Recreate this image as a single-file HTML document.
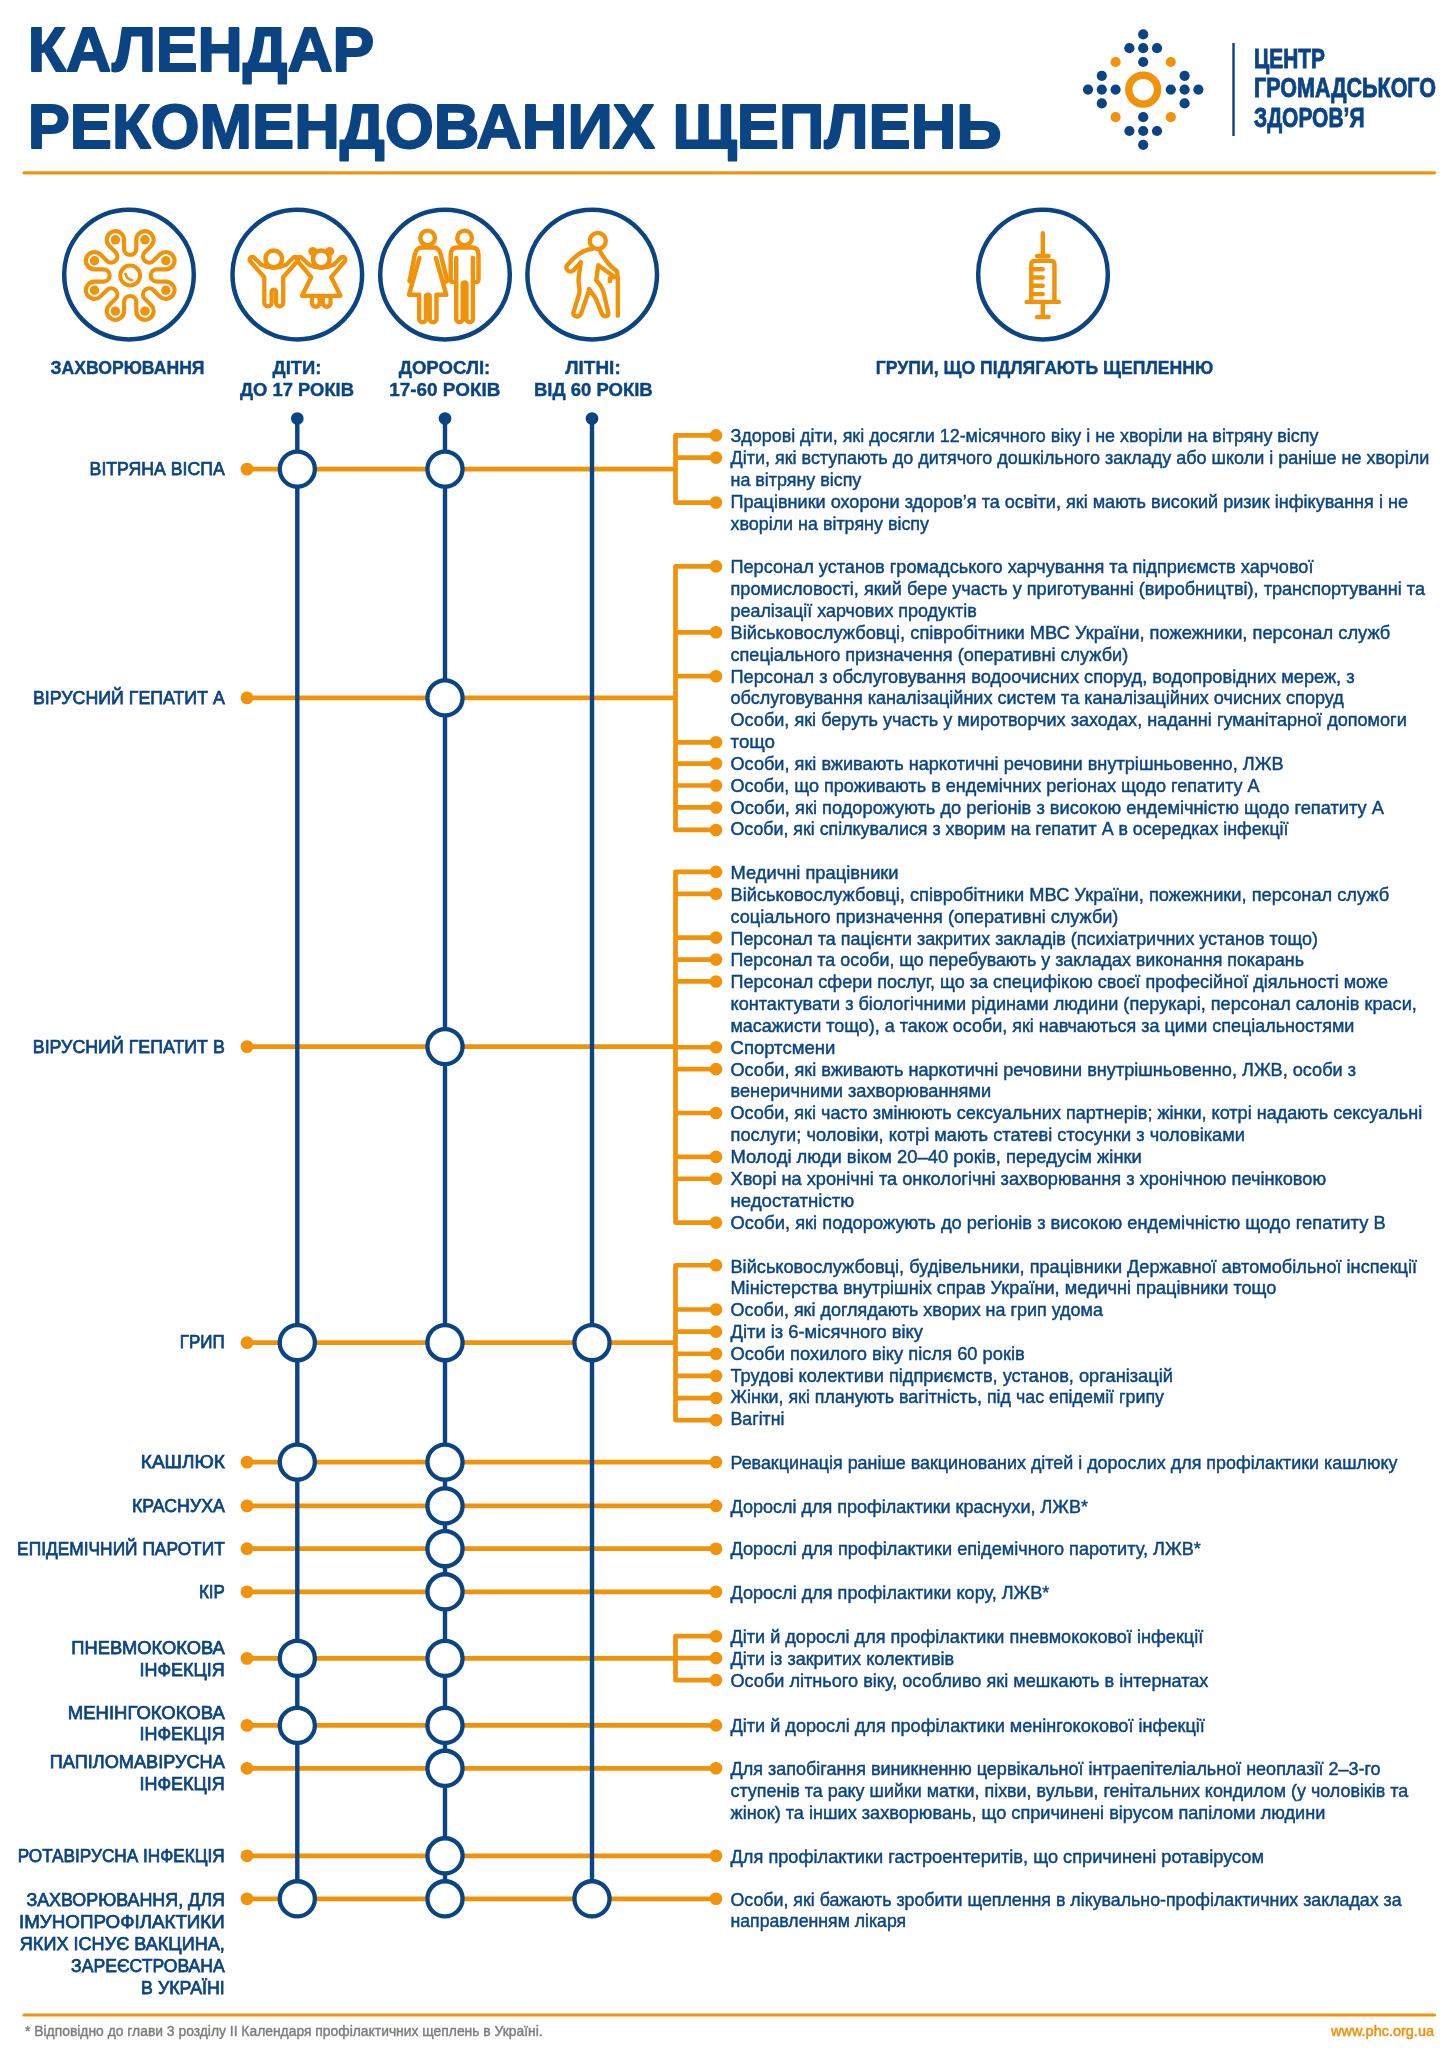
<!DOCTYPE html>
<html lang="uk"><head><meta charset="utf-8"><title>Календар рекомендованих щеплень</title>
<style>
html,body{margin:0;padding:0;background:#fff;}
body{width:1456px;height:2048px;overflow:hidden;position:relative;font-family:"Liberation Sans", sans-serif;}
svg{position:absolute;left:0;top:0;display:block;will-change:transform;font-family:"Liberation Sans", sans-serif;}
</style></head><body>
<svg width="1456" height="2048" viewBox="0 0 1456 2048">
<text x="27.7" y="71.3" font-size="62.8" font-weight="bold" fill="#0b4483" text-anchor="start" textLength="346.7" lengthAdjust="spacingAndGlyphs" stroke="#0b4483" stroke-width="1.8" stroke-linejoin="round">КАЛЕНДАР</text>
<text x="27.7" y="147.7" font-size="62.8" font-weight="bold" fill="#0b4483" text-anchor="start" textLength="973.9" lengthAdjust="spacingAndGlyphs" stroke="#0b4483" stroke-width="1.8" stroke-linejoin="round">РЕКОМЕНДОВАНИХ ЩЕПЛЕНЬ</text>
<circle cx="1143.2" cy="34.4" r="5.1" fill="#0b4483"/>
<circle cx="1129.4" cy="48.2" r="5.1" fill="#0b4483"/>
<circle cx="1143.2" cy="48.2" r="5.1" fill="#0b4483"/>
<circle cx="1157.0" cy="48.2" r="5.1" fill="#0b4483"/>
<circle cx="1143.2" cy="62.0" r="5.1" fill="#0b4483"/>
<circle cx="1101.8" cy="75.8" r="5.1" fill="#0b4483"/>
<circle cx="1184.6" cy="75.8" r="5.1" fill="#0b4483"/>
<circle cx="1088.0" cy="89.6" r="5.1" fill="#0b4483"/>
<circle cx="1101.8" cy="89.6" r="5.1" fill="#0b4483"/>
<circle cx="1115.6" cy="89.6" r="5.1" fill="#0b4483"/>
<circle cx="1170.8" cy="89.6" r="5.1" fill="#0b4483"/>
<circle cx="1184.6" cy="89.6" r="5.1" fill="#0b4483"/>
<circle cx="1198.4" cy="89.6" r="5.1" fill="#0b4483"/>
<circle cx="1101.8" cy="103.4" r="5.1" fill="#0b4483"/>
<circle cx="1184.6" cy="103.4" r="5.1" fill="#0b4483"/>
<circle cx="1143.2" cy="117.2" r="5.1" fill="#0b4483"/>
<circle cx="1129.4" cy="131.0" r="5.1" fill="#0b4483"/>
<circle cx="1143.2" cy="131.0" r="5.1" fill="#0b4483"/>
<circle cx="1157.0" cy="131.0" r="5.1" fill="#0b4483"/>
<circle cx="1143.2" cy="144.8" r="5.1" fill="#0b4483"/>
<circle cx="1115.6" cy="62.0" r="5.1" fill="#f1920b"/>
<circle cx="1170.8" cy="62.0" r="5.1" fill="#f1920b"/>
<circle cx="1115.6" cy="117.2" r="5.1" fill="#f1920b"/>
<circle cx="1170.8" cy="117.2" r="5.1" fill="#f1920b"/>
<circle cx="1143.2" cy="89.6" r="14.4" fill="none" stroke="#f1920b" stroke-width="7.4"/>
<rect x="1232.3" y="43" width="2.4" height="93" fill="#0b4483"/>
<text x="1254" y="67.8" font-size="27.5" font-weight="bold" fill="#0b4483" text-anchor="start" textLength="71" lengthAdjust="spacingAndGlyphs" stroke="#0b4483" stroke-width="0.9">ЦЕНТР</text>
<text x="1254" y="96.9" font-size="27.5" font-weight="bold" fill="#0b4483" text-anchor="start" textLength="182" lengthAdjust="spacingAndGlyphs" stroke="#0b4483" stroke-width="0.9">ГРОМАДСЬКОГО</text>
<text x="1254" y="126.8" font-size="27.5" font-weight="bold" fill="#0b4483" text-anchor="start" textLength="110.5" lengthAdjust="spacingAndGlyphs" stroke="#0b4483" stroke-width="0.9">ЗДОРОВ’Я</text>
<line x1="24" y1="172.8" x2="1434.5" y2="172.8" stroke="#f1920b" stroke-width="3.2" stroke-linecap="round"/>
<line x1="24" y1="2015" x2="1434.5" y2="2015" stroke="#f1920b" stroke-width="3.2" stroke-linecap="round"/>
<circle cx="129" cy="274.6" r="64.8" fill="none" stroke="#0b4483" stroke-width="4.5"/>
<circle cx="297.3" cy="274.6" r="64.8" fill="none" stroke="#0b4483" stroke-width="4.5"/>
<circle cx="445" cy="274.6" r="64.8" fill="none" stroke="#0b4483" stroke-width="4.5"/>
<circle cx="592.2" cy="274.6" r="64.8" fill="none" stroke="#0b4483" stroke-width="4.5"/>
<circle cx="1043" cy="274.6" r="64.8" fill="none" stroke="#0b4483" stroke-width="4.5"/>
<path d="M124.05 239.82L124.05 248.86A6.12 6.12 0 0 0 136.29 248.86L136.29 239.82A8.65 8.65 0 1 1 151.06 245.93L144.67 252.33A6.12 6.12 0 0 0 153.32 260.98L159.72 254.59A8.65 8.65 0 1 1 165.83 269.36L156.79 269.36A6.12 6.12 0 0 0 156.79 281.60L165.83 281.60A8.65 8.65 0 1 1 159.72 296.37L153.32 289.98A6.12 6.12 0 0 0 144.67 298.63L151.06 305.03A8.65 8.65 0 1 1 136.29 311.14L136.29 302.10A6.12 6.12 0 0 0 124.05 302.10L124.05 311.14A8.65 8.65 0 1 1 109.28 305.03L115.67 298.63A6.12 6.12 0 0 0 107.02 289.98L100.62 296.37A8.65 8.65 0 1 1 94.51 281.60L103.55 281.60A6.12 6.12 0 0 0 103.55 269.36L94.51 269.36A8.65 8.65 0 1 1 100.62 254.59L107.02 260.98A6.12 6.12 0 0 0 115.67 252.33L109.28 245.93A8.65 8.65 0 1 1 124.05 239.82Z" fill="none" stroke="#f1920b" stroke-width="4.2" stroke-linejoin="round"/>
<circle cx="144.94" cy="239.82" r="4.7" fill="#f1920b"/>
<circle cx="165.83" cy="260.71" r="4.7" fill="#f1920b"/>
<circle cx="165.83" cy="290.25" r="4.7" fill="#f1920b"/>
<circle cx="144.94" cy="311.14" r="4.7" fill="#f1920b"/>
<circle cx="115.40" cy="311.14" r="4.7" fill="#f1920b"/>
<circle cx="94.51" cy="290.25" r="4.7" fill="#f1920b"/>
<circle cx="94.51" cy="260.71" r="4.7" fill="#f1920b"/>
<circle cx="115.40" cy="239.82" r="4.7" fill="#f1920b"/>
<circle cx="130.17" cy="275.48" r="9.9" fill="none" stroke="#f1920b" stroke-width="4"/>
<path d="M125.57 273.98 Q126.77 279.08 131.97 280.08" fill="none" stroke="#f1920b" stroke-width="2.7" stroke-linecap="round"/>
<g fill="none" stroke="#f1920b" stroke-width="4.3" stroke-linejoin="round" stroke-linecap="round">
<circle cx="273.75" cy="258.9" r="8.3" stroke-width="4.5"/>
<path d="M264.3 277.2 L264.3 302.75 A3.65 3.65 0 0 0 271.6 302.75 L271.6 291.95 A2.25 2.25 0 0 1 276.1 291.95 L276.1 302.75 A3.55 3.55 0 0 0 283.2 302.75 L283.2 277.2 L297.1 261.5 A2.65 2.65 0 0 0 293.3 257.7 L286.4 264.6 Q273.75 271 261.1 264.6 L254.2 257.7 A2.65 2.65 0 0 0 250.4 261.5 Z"/>
<circle cx="321.25" cy="258.9" r="8.3" stroke-width="4.5"/>
<circle cx="312.8" cy="251.4" r="4.5" fill="#f1920b" stroke="none"/><circle cx="329.7" cy="251.4" r="4.5" fill="#f1920b" stroke="none"/>
<path d="M311.3 277.2 L302 295.8 L340.5 295.8 L331.2 277.2 L344.6 261.5 A2.65 2.65 0 0 0 340.8 257.7 L333.9 264.6 Q321.25 271 308.6 264.6 L301.7 257.7 A2.65 2.65 0 0 0 297.9 261.5 Z"/>
<path d="M312 296 V303 A3.75 3.75 0 0 0 319.5 303 V296 M323 296 V303 A3.75 3.75 0 0 0 330.5 303 V296"/>
<rect x="319.5" y="296" width="3.5" height="7" fill="#f1920b" stroke="none"/>
</g>
<g transform="translate(400 220) scale(0.06180)" fill="none" stroke="#f1920b" stroke-width="72" stroke-linejoin="round" stroke-linecap="round">
<circle cx="447" cy="290" r="118"/>
<path d="M160 965 L240 560 Q265 445 360 445 L540 445 Q635 445 660 560 L760 965 Q765 995 735 1000"/>
<path d="M160 965 Q140 995 175 1000"/>
<path d="M315 615 L145 1210 L310 1210 L310 1600 A55 55 0 0 0 420 1600 L420 1240 A30 30 0 0 1 480 1240 L480 1600 A55 55 0 0 0 590 1600 L590 1210 L750 1210 L580 615"/>
<circle cx="1045" cy="290" r="118"/>
<path d="M910 615 L910 1600 A52 52 0 0 0 1015 1600 L1015 1040 A30 30 0 0 1 1075 1040 L1075 1600 A52 52 0 0 0 1180 1600 L1180 615"/>
<path d="M860 1005 Q820 1005 820 960 L820 560 Q820 445 930 445 L1160 445 Q1270 445 1270 560 L1270 960 Q1270 1005 1230 1005"/>
</g>
<g transform="translate(555 225) scale(0.05152)" fill="none" stroke="#f1920b" stroke-width="85" stroke-linejoin="round" stroke-linecap="round">
<circle cx="830" cy="310" r="156"/>
<path d="M720 465 Q480 480 230 790 Q200 850 260 895 Q310 920 360 880 L500 720 L460 1020 Q450 1100 470 1200 Q490 1300 450 1400 L360 1690 Q340 1760 420 1775 Q480 1780 510 1710 L650 1300 L660 1240 L790 1420 L900 1700 Q930 1775 990 1770 Q1050 1760 1030 1690 L950 1330 Q930 1250 880 1170 L800 1070 L840 780 L1130 990 Q1190 1020 1210 960 Q1220 900 1160 860 Q1030 780 880 520"/>
<path d="M1220 1020 L1220 1760 M1220 1020 Q1160 1000 1065 1030 L1065 1090"/>
</g>
<g transform="translate(1010 225) scale(0.04883)" fill="none" stroke="#f1920b" stroke-width="90" stroke-linejoin="round" stroke-linecap="round">
<path d="M672 170 L672 600 M555 635 L790 635 M435 1575 L435 810 Q435 735 510 735 L835 735 Q910 735 910 810 L910 1575 M435 905 L670 905 M435 1075 L670 1075 M435 1245 L670 1245 M435 1415 L670 1415 M340 1575 L1000 1575 M672 1575 L672 1885 M555 1885 L790 1885"/>
</g>
<text x="127.5" y="373.6" font-size="19" font-weight="bold" fill="#0b4483" text-anchor="middle" textLength="154" lengthAdjust="spacingAndGlyphs" stroke="#0b4483" stroke-width="0.4">ЗАХВОРЮВАННЯ</text>
<text x="297" y="373.8" font-size="19" font-weight="bold" fill="#0b4483" text-anchor="middle" textLength="49" lengthAdjust="spacingAndGlyphs" stroke="#0b4483" stroke-width="0.4">ДІТИ:</text>
<text x="297" y="395.7" font-size="19" font-weight="bold" fill="#0b4483" text-anchor="middle" textLength="114" lengthAdjust="spacingAndGlyphs" stroke="#0b4483" stroke-width="0.4">ДО 17 РОКІВ</text>
<text x="444.5" y="373.8" font-size="19" font-weight="bold" fill="#0b4483" text-anchor="middle" textLength="91.6" lengthAdjust="spacingAndGlyphs" stroke="#0b4483" stroke-width="0.4">ДОРОСЛІ:</text>
<text x="444.8" y="395.7" font-size="19" font-weight="bold" fill="#0b4483" text-anchor="middle" textLength="111" lengthAdjust="spacingAndGlyphs" stroke="#0b4483" stroke-width="0.4">17-60 РОКІВ</text>
<text x="593" y="373.8" font-size="19" font-weight="bold" fill="#0b4483" text-anchor="middle" textLength="55.4" lengthAdjust="spacingAndGlyphs" stroke="#0b4483" stroke-width="0.4">ЛІТНІ:</text>
<text x="593.3" y="395.7" font-size="19" font-weight="bold" fill="#0b4483" text-anchor="middle" textLength="118.8" lengthAdjust="spacingAndGlyphs" stroke="#0b4483" stroke-width="0.4">ВІД 60 РОКІВ</text>
<text x="1044.5" y="373.6" font-size="19" font-weight="bold" fill="#0b4483" text-anchor="middle" textLength="337.4" lengthAdjust="spacingAndGlyphs" stroke="#0b4483" stroke-width="0.4">ГРУПИ, ЩО ПІДЛЯГАЮТЬ ЩЕПЛЕННЮ</text>
<path d="M247 469.1H675.5 M716 435.39H675.5V502.53H716 M675.5 457.62H716 M247 697.9H675.5 M716 566.40H675.5V829.94H716 M675.5 632.30H716 M675.5 676.20H716 M675.5 742.28H716 M675.5 763.57H716 M675.5 785.50H716 M675.5 807.45H716 M247 1046.6H675.5 M716 871.87H675.5V1222.59H716 M675.5 893.79H716 M675.5 937.63H716 M675.5 959.55H716 M675.5 981.47H716 M675.5 1047.23H716 M675.5 1069.15H716 M675.5 1112.99H716 M675.5 1156.83H716 M675.5 1178.75H716 M247 1342.7H675.5 M716 1265.25H675.5V1420.16H716 M675.5 1309.51H716 M675.5 1331.64H716 M675.5 1353.77H716 M675.5 1375.90H716 M675.5 1398.03H716 M247 1462.1H716 M247 1505.9H716 M247 1548.7H716 M247 1591.8H716 M247 1658.4H675.5 M716 1636.20H675.5V1680.10H716 M675.5 1658.15H716 M247 1725.4H716 M247 1768.3H716 M247 1855.8H716 M247 1898.8H716" fill="none" stroke="#f1920b" stroke-width="4.7" stroke-linejoin="round"/>
<path d="M297.3 418.5V1898.8 M445 418.5V1898.8 M592 418.5V1898.8" stroke="#0b4483" stroke-width="4.4"/>
<circle cx="297.3" cy="418.5" r="6.35" fill="#0b4483"/>
<circle cx="445" cy="418.5" r="6.35" fill="#0b4483"/>
<circle cx="592" cy="418.5" r="6.35" fill="#0b4483"/>
<circle cx="247" cy="469.1" r="6.4" fill="#f1920b"/>
<circle cx="716" cy="435.39" r="6.3" fill="#f1920b"/>
<circle cx="716" cy="457.62" r="6.3" fill="#f1920b"/>
<circle cx="716" cy="502.53" r="6.3" fill="#f1920b"/>
<circle cx="297.3" cy="469.1" r="17.55" fill="#fff" stroke="#0b4483" stroke-width="4.3"/>
<circle cx="445" cy="469.1" r="17.55" fill="#fff" stroke="#0b4483" stroke-width="4.3"/>
<text x="224.8" y="474.80" font-size="19" font-weight="normal" fill="#0b4483" text-anchor="end" textLength="135.2" lengthAdjust="spacingAndGlyphs" stroke="#0b4483" stroke-width="0.75">ВІТРЯНА ВІСПА</text>
<text x="730.5" y="442.10" font-size="18.5" font-weight="normal" fill="#0b4483" text-anchor="start" textLength="587.9" lengthAdjust="spacingAndGlyphs" stroke="#0b4483" stroke-width="0.45">Здорові діти, які досягли 12-місячного віку і не хворіли на вітряну віспу</text>
<text x="730.5" y="464.03" font-size="18.5" font-weight="normal" fill="#0b4483" text-anchor="start" textLength="698.8" lengthAdjust="spacingAndGlyphs" stroke="#0b4483" stroke-width="0.45">Діти, які вступають до дитячого дошкільного закладу або школи і раніше не хворіли</text>
<text x="730.5" y="485.96" font-size="18.5" font-weight="normal" fill="#0b4483" text-anchor="start" textLength="130.8" lengthAdjust="spacingAndGlyphs" stroke="#0b4483" stroke-width="0.45">на вітряну віспу</text>
<text x="730.5" y="507.89" font-size="18.5" font-weight="normal" fill="#0b4483" text-anchor="start" textLength="677.5" lengthAdjust="spacingAndGlyphs" stroke="#0b4483" stroke-width="0.45">Працівники охорони здоров’я та освіти, які мають високий ризик інфікування і не</text>
<text x="730.5" y="529.82" font-size="18.5" font-weight="normal" fill="#0b4483" text-anchor="start" textLength="198.5" lengthAdjust="spacingAndGlyphs" stroke="#0b4483" stroke-width="0.45">хворіли на вітряну віспу</text>
<circle cx="247" cy="697.9" r="6.4" fill="#f1920b"/>
<circle cx="716" cy="566.40" r="6.3" fill="#f1920b"/>
<circle cx="716" cy="632.30" r="6.3" fill="#f1920b"/>
<circle cx="716" cy="676.20" r="6.3" fill="#f1920b"/>
<circle cx="716" cy="742.28" r="6.3" fill="#f1920b"/>
<circle cx="716" cy="763.57" r="6.3" fill="#f1920b"/>
<circle cx="716" cy="785.50" r="6.3" fill="#f1920b"/>
<circle cx="716" cy="807.45" r="6.3" fill="#f1920b"/>
<circle cx="716" cy="829.94" r="6.3" fill="#f1920b"/>
<circle cx="445" cy="697.9" r="17.55" fill="#fff" stroke="#0b4483" stroke-width="4.3"/>
<text x="224.8" y="703.60" font-size="19" font-weight="normal" fill="#0b4483" text-anchor="end" textLength="191.8" lengthAdjust="spacingAndGlyphs" stroke="#0b4483" stroke-width="0.75">ВІРУСНИЙ ГЕПАТИТ А</text>
<text x="730.5" y="573.40" font-size="18.5" font-weight="normal" fill="#0b4483" text-anchor="start" textLength="583.0" lengthAdjust="spacingAndGlyphs" stroke="#0b4483" stroke-width="0.45">Персонал установ громадського харчування та підприємств харчової</text>
<text x="730.5" y="595.24" font-size="18.5" font-weight="normal" fill="#0b4483" text-anchor="start" textLength="694.5" lengthAdjust="spacingAndGlyphs" stroke="#0b4483" stroke-width="0.45">промисловості, який бере участь у приготуванні (виробництві), транспортуванні та</text>
<text x="730.5" y="617.08" font-size="18.5" font-weight="normal" fill="#0b4483" text-anchor="start" textLength="246.3" lengthAdjust="spacingAndGlyphs" stroke="#0b4483" stroke-width="0.45">реалізації харчових продуктів</text>
<text x="730.5" y="638.92" font-size="18.5" font-weight="normal" fill="#0b4483" text-anchor="start" textLength="659.8" lengthAdjust="spacingAndGlyphs" stroke="#0b4483" stroke-width="0.45">Військовослужбовці, співробітники МВС України, пожежники, персонал служб</text>
<text x="730.5" y="660.76" font-size="18.5" font-weight="normal" fill="#0b4483" text-anchor="start" textLength="397.7" lengthAdjust="spacingAndGlyphs" stroke="#0b4483" stroke-width="0.45">спеціального призначення (оперативні служби)</text>
<text x="730.5" y="682.60" font-size="18.5" font-weight="normal" fill="#0b4483" text-anchor="start" textLength="624.1" lengthAdjust="spacingAndGlyphs" stroke="#0b4483" stroke-width="0.45">Персонал з обслуговування водоочисних споруд, водопровідних мереж, з</text>
<text x="730.5" y="704.44" font-size="18.5" font-weight="normal" fill="#0b4483" text-anchor="start" textLength="613.2" lengthAdjust="spacingAndGlyphs" stroke="#0b4483" stroke-width="0.45">обслуговування каналізаційних систем та каналізаційних очисних споруд</text>
<text x="730.5" y="726.28" font-size="18.5" font-weight="normal" fill="#0b4483" text-anchor="start" textLength="676.3" lengthAdjust="spacingAndGlyphs" stroke="#0b4483" stroke-width="0.45">Особи, які беруть участь у миротворчих заходах, наданні гуманітарної допомоги</text>
<text x="730.5" y="748.12" font-size="18.5" font-weight="normal" fill="#0b4483" text-anchor="start" textLength="44.5" lengthAdjust="spacingAndGlyphs" stroke="#0b4483" stroke-width="0.45">тощо</text>
<text x="730.5" y="769.96" font-size="18.5" font-weight="normal" fill="#0b4483" text-anchor="start" textLength="553.0" lengthAdjust="spacingAndGlyphs" stroke="#0b4483" stroke-width="0.45">Особи, які вживають наркотичні речовини внутрішньовенно, ЛЖВ</text>
<text x="730.5" y="791.80" font-size="18.5" font-weight="normal" fill="#0b4483" text-anchor="start" textLength="529.1" lengthAdjust="spacingAndGlyphs" stroke="#0b4483" stroke-width="0.45">Особи, що проживають в ендемічних регіонах щодо гепатиту А</text>
<text x="730.5" y="813.64" font-size="18.5" font-weight="normal" fill="#0b4483" text-anchor="start" textLength="653.5" lengthAdjust="spacingAndGlyphs" stroke="#0b4483" stroke-width="0.45">Особи, які подорожують до регіонів з високою ендемічністю щодо гепатиту А</text>
<text x="730.5" y="835.48" font-size="18.5" font-weight="normal" fill="#0b4483" text-anchor="start" textLength="558.0" lengthAdjust="spacingAndGlyphs" stroke="#0b4483" stroke-width="0.45">Особи, які спілкувалися з хворим на гепатит А в осередках інфекції</text>
<circle cx="247" cy="1046.6" r="6.4" fill="#f1920b"/>
<circle cx="716" cy="871.87" r="6.3" fill="#f1920b"/>
<circle cx="716" cy="893.79" r="6.3" fill="#f1920b"/>
<circle cx="716" cy="937.63" r="6.3" fill="#f1920b"/>
<circle cx="716" cy="959.55" r="6.3" fill="#f1920b"/>
<circle cx="716" cy="981.47" r="6.3" fill="#f1920b"/>
<circle cx="716" cy="1047.23" r="6.3" fill="#f1920b"/>
<circle cx="716" cy="1069.15" r="6.3" fill="#f1920b"/>
<circle cx="716" cy="1112.99" r="6.3" fill="#f1920b"/>
<circle cx="716" cy="1156.83" r="6.3" fill="#f1920b"/>
<circle cx="716" cy="1178.75" r="6.3" fill="#f1920b"/>
<circle cx="716" cy="1222.59" r="6.3" fill="#f1920b"/>
<circle cx="445" cy="1046.6" r="17.55" fill="#fff" stroke="#0b4483" stroke-width="4.3"/>
<text x="224.8" y="1052.60" font-size="19" font-weight="normal" fill="#0b4483" text-anchor="end" textLength="192" lengthAdjust="spacingAndGlyphs" stroke="#0b4483" stroke-width="0.75">ВІРУСНИЙ ГЕПАТИТ В</text>
<text x="730.5" y="878.96" font-size="18.5" font-weight="normal" fill="#0b4483" text-anchor="start" textLength="168.1" lengthAdjust="spacingAndGlyphs" stroke="#0b4483" stroke-width="0.45">Медичні працівники</text>
<text x="730.5" y="900.81" font-size="18.5" font-weight="normal" fill="#0b4483" text-anchor="start" textLength="658.7" lengthAdjust="spacingAndGlyphs" stroke="#0b4483" stroke-width="0.45">Військовослужбовці, співробітники МВС України, пожежники, персонал служб</text>
<text x="730.5" y="922.66" font-size="18.5" font-weight="normal" fill="#0b4483" text-anchor="start" textLength="387.9" lengthAdjust="spacingAndGlyphs" stroke="#0b4483" stroke-width="0.45">соціального призначення (оперативні служби)</text>
<text x="730.5" y="944.51" font-size="18.5" font-weight="normal" fill="#0b4483" text-anchor="start" textLength="587.4" lengthAdjust="spacingAndGlyphs" stroke="#0b4483" stroke-width="0.45">Персонал та пацієнти закритих закладів (психіатричних установ тощо)</text>
<text x="730.5" y="966.36" font-size="18.5" font-weight="normal" fill="#0b4483" text-anchor="start" textLength="573.5" lengthAdjust="spacingAndGlyphs" stroke="#0b4483" stroke-width="0.45">Персонал та особи, що перебувають у закладах виконання покарань</text>
<text x="730.5" y="988.21" font-size="18.5" font-weight="normal" fill="#0b4483" text-anchor="start" textLength="657.5" lengthAdjust="spacingAndGlyphs" stroke="#0b4483" stroke-width="0.45">Персонал сфери послуг, що за специфікою своєї професійної діяльності може</text>
<text x="730.5" y="1010.06" font-size="18.5" font-weight="normal" fill="#0b4483" text-anchor="start" textLength="686.3" lengthAdjust="spacingAndGlyphs" stroke="#0b4483" stroke-width="0.45">контактувати з біологічними рідинами людини (перукарі, персонал салонів краси,</text>
<text x="730.5" y="1031.91" font-size="18.5" font-weight="normal" fill="#0b4483" text-anchor="start" textLength="623.9" lengthAdjust="spacingAndGlyphs" stroke="#0b4483" stroke-width="0.45">масажисти тощо), а також особи, які навчаються за цими спеціальностями</text>
<text x="730.5" y="1053.76" font-size="18.5" font-weight="normal" fill="#0b4483" text-anchor="start" textLength="104.8" lengthAdjust="spacingAndGlyphs" stroke="#0b4483" stroke-width="0.45">Спортсмени</text>
<text x="730.5" y="1075.61" font-size="18.5" font-weight="normal" fill="#0b4483" text-anchor="start" textLength="625.5" lengthAdjust="spacingAndGlyphs" stroke="#0b4483" stroke-width="0.45">Особи, які вживають наркотичні речовини внутрішньовенно, ЛЖВ, особи з</text>
<text x="730.5" y="1097.46" font-size="18.5" font-weight="normal" fill="#0b4483" text-anchor="start" textLength="260.6" lengthAdjust="spacingAndGlyphs" stroke="#0b4483" stroke-width="0.45">венеричними захворюваннями</text>
<text x="730.5" y="1119.31" font-size="18.5" font-weight="normal" fill="#0b4483" text-anchor="start" textLength="691.7" lengthAdjust="spacingAndGlyphs" stroke="#0b4483" stroke-width="0.45">Особи, які часто змінюють сексуальних партнерів; жінки, котрі надають сексуальні</text>
<text x="730.5" y="1141.16" font-size="18.5" font-weight="normal" fill="#0b4483" text-anchor="start" textLength="514.5" lengthAdjust="spacingAndGlyphs" stroke="#0b4483" stroke-width="0.45">послуги; чоловіки, котрі мають статеві стосунки з чоловіками</text>
<text x="730.5" y="1163.01" font-size="18.5" font-weight="normal" fill="#0b4483" text-anchor="start" textLength="411.4" lengthAdjust="spacingAndGlyphs" stroke="#0b4483" stroke-width="0.45">Молоді люди віком 20–40 років, передусім жінки</text>
<text x="730.5" y="1184.86" font-size="18.5" font-weight="normal" fill="#0b4483" text-anchor="start" textLength="595.6" lengthAdjust="spacingAndGlyphs" stroke="#0b4483" stroke-width="0.45">Хворі на хронічні та онкологічні захворювання з хронічною печінковою</text>
<text x="730.5" y="1206.71" font-size="18.5" font-weight="normal" fill="#0b4483" text-anchor="start" textLength="123.8" lengthAdjust="spacingAndGlyphs" stroke="#0b4483" stroke-width="0.45">недостатністю</text>
<text x="730.5" y="1228.56" font-size="18.5" font-weight="normal" fill="#0b4483" text-anchor="start" textLength="655.1" lengthAdjust="spacingAndGlyphs" stroke="#0b4483" stroke-width="0.45">Особи, які подорожують до регіонів з високою ендемічністю щодо гепатиту В</text>
<circle cx="247" cy="1342.7" r="6.4" fill="#f1920b"/>
<circle cx="716" cy="1265.25" r="6.3" fill="#f1920b"/>
<circle cx="716" cy="1309.51" r="6.3" fill="#f1920b"/>
<circle cx="716" cy="1331.64" r="6.3" fill="#f1920b"/>
<circle cx="716" cy="1353.77" r="6.3" fill="#f1920b"/>
<circle cx="716" cy="1375.90" r="6.3" fill="#f1920b"/>
<circle cx="716" cy="1398.03" r="6.3" fill="#f1920b"/>
<circle cx="716" cy="1420.16" r="6.3" fill="#f1920b"/>
<circle cx="297.3" cy="1342.7" r="17.55" fill="#fff" stroke="#0b4483" stroke-width="4.3"/>
<circle cx="445" cy="1342.7" r="17.55" fill="#fff" stroke="#0b4483" stroke-width="4.3"/>
<circle cx="592" cy="1342.7" r="17.55" fill="#fff" stroke="#0b4483" stroke-width="4.3"/>
<text x="224.8" y="1347.80" font-size="19" font-weight="normal" fill="#0b4483" text-anchor="end" textLength="45" lengthAdjust="spacingAndGlyphs" stroke="#0b4483" stroke-width="0.75">ГРИП</text>
<text x="730.5" y="1272.53" font-size="18.5" font-weight="normal" fill="#0b4483" text-anchor="start" textLength="686.6" lengthAdjust="spacingAndGlyphs" stroke="#0b4483" stroke-width="0.45">Військовослужбовці, будівельники, працівники Державної автомобільної інспекції</text>
<text x="730.5" y="1294.33" font-size="18.5" font-weight="normal" fill="#0b4483" text-anchor="start" textLength="545.9" lengthAdjust="spacingAndGlyphs" stroke="#0b4483" stroke-width="0.45">Міністерства внутрішніх справ України, медичні працівники тощо</text>
<text x="730.5" y="1316.13" font-size="18.5" font-weight="normal" fill="#0b4483" text-anchor="start" textLength="372.4" lengthAdjust="spacingAndGlyphs" stroke="#0b4483" stroke-width="0.45">Особи, які доглядають хворих на грип удома</text>
<text x="730.5" y="1337.93" font-size="18.5" font-weight="normal" fill="#0b4483" text-anchor="start" textLength="192.5" lengthAdjust="spacingAndGlyphs" stroke="#0b4483" stroke-width="0.45">Діти із 6-місячного віку</text>
<text x="730.5" y="1359.73" font-size="18.5" font-weight="normal" fill="#0b4483" text-anchor="start" textLength="294.3" lengthAdjust="spacingAndGlyphs" stroke="#0b4483" stroke-width="0.45">Особи похилого віку після 60 років</text>
<text x="730.5" y="1381.53" font-size="18.5" font-weight="normal" fill="#0b4483" text-anchor="start" textLength="442.4" lengthAdjust="spacingAndGlyphs" stroke="#0b4483" stroke-width="0.45">Трудові колективи підприємств, установ, організацій</text>
<text x="730.5" y="1403.33" font-size="18.5" font-weight="normal" fill="#0b4483" text-anchor="start" textLength="433.5" lengthAdjust="spacingAndGlyphs" stroke="#0b4483" stroke-width="0.45">Жінки, які планують вагітність, під час епідемії грипу</text>
<text x="730.5" y="1425.13" font-size="18.5" font-weight="normal" fill="#0b4483" text-anchor="start" textLength="53.9" lengthAdjust="spacingAndGlyphs" stroke="#0b4483" stroke-width="0.45">Вагітні</text>
<circle cx="247" cy="1462.1" r="6.4" fill="#f1920b"/>
<circle cx="716" cy="1462.10" r="6.3" fill="#f1920b"/>
<circle cx="297.3" cy="1462.1" r="17.55" fill="#fff" stroke="#0b4483" stroke-width="4.3"/>
<circle cx="445" cy="1462.1" r="17.55" fill="#fff" stroke="#0b4483" stroke-width="4.3"/>
<text x="224.8" y="1467.90" font-size="19" font-weight="normal" fill="#0b4483" text-anchor="end" textLength="84" lengthAdjust="spacingAndGlyphs" stroke="#0b4483" stroke-width="0.75">КАШЛЮК</text>
<text x="730.5" y="1468.80" font-size="18.5" font-weight="normal" fill="#0b4483" text-anchor="start" textLength="666.9" lengthAdjust="spacingAndGlyphs" stroke="#0b4483" stroke-width="0.45">Ревакцинація раніше вакцинованих дітей і дорослих для профілактики кашлюку</text>
<circle cx="247" cy="1505.9" r="6.4" fill="#f1920b"/>
<circle cx="716" cy="1505.90" r="6.3" fill="#f1920b"/>
<circle cx="445" cy="1505.9" r="17.55" fill="#fff" stroke="#0b4483" stroke-width="4.3"/>
<text x="224.8" y="1511.80" font-size="19" font-weight="normal" fill="#0b4483" text-anchor="end" textLength="92.9" lengthAdjust="spacingAndGlyphs" stroke="#0b4483" stroke-width="0.75">КРАСНУХА</text>
<text x="730.5" y="1512.60" font-size="18.5" font-weight="normal" fill="#0b4483" text-anchor="start" textLength="357.5" lengthAdjust="spacingAndGlyphs" stroke="#0b4483" stroke-width="0.45">Дорослі для профілактики краснухи, ЛЖВ*</text>
<circle cx="247" cy="1548.7" r="6.4" fill="#f1920b"/>
<circle cx="716" cy="1548.70" r="6.3" fill="#f1920b"/>
<circle cx="445" cy="1548.7" r="17.55" fill="#fff" stroke="#0b4483" stroke-width="4.3"/>
<text x="224.8" y="1555.20" font-size="19" font-weight="normal" fill="#0b4483" text-anchor="end" textLength="207.7" lengthAdjust="spacingAndGlyphs" stroke="#0b4483" stroke-width="0.75">ЕПІДЕМІЧНИЙ ПАРОТИТ</text>
<text x="730.5" y="1555.40" font-size="18.5" font-weight="normal" fill="#0b4483" text-anchor="start" textLength="470.3" lengthAdjust="spacingAndGlyphs" stroke="#0b4483" stroke-width="0.45">Дорослі для профілактики епідемічного паротиту, ЛЖВ*</text>
<circle cx="247" cy="1591.8" r="6.4" fill="#f1920b"/>
<circle cx="716" cy="1591.80" r="6.3" fill="#f1920b"/>
<circle cx="445" cy="1591.8" r="17.55" fill="#fff" stroke="#0b4483" stroke-width="4.3"/>
<text x="224.8" y="1597.90" font-size="19" font-weight="normal" fill="#0b4483" text-anchor="end" textLength="25.9" lengthAdjust="spacingAndGlyphs" stroke="#0b4483" stroke-width="0.75">КІР</text>
<text x="730.5" y="1598.50" font-size="18.5" font-weight="normal" fill="#0b4483" text-anchor="start" textLength="318.9" lengthAdjust="spacingAndGlyphs" stroke="#0b4483" stroke-width="0.45">Дорослі для профілактики кору, ЛЖВ*</text>
<circle cx="247" cy="1658.4" r="6.4" fill="#f1920b"/>
<circle cx="716" cy="1636.20" r="6.3" fill="#f1920b"/>
<circle cx="716" cy="1658.15" r="6.3" fill="#f1920b"/>
<circle cx="716" cy="1680.10" r="6.3" fill="#f1920b"/>
<circle cx="297.3" cy="1658.4" r="17.55" fill="#fff" stroke="#0b4483" stroke-width="4.3"/>
<circle cx="445" cy="1658.4" r="17.55" fill="#fff" stroke="#0b4483" stroke-width="4.3"/>
<text x="224.8" y="1653.80" font-size="19" font-weight="normal" fill="#0b4483" text-anchor="end" textLength="153.5" lengthAdjust="spacingAndGlyphs" stroke="#0b4483" stroke-width="0.75">ПНЕВМОКОКОВА</text>
<text x="224.8" y="1675.70" font-size="19" font-weight="normal" fill="#0b4483" text-anchor="end" textLength="85.3" lengthAdjust="spacingAndGlyphs" stroke="#0b4483" stroke-width="0.75">ІНФЕКЦІЯ</text>
<text x="730.5" y="1642.90" font-size="18.5" font-weight="normal" fill="#0b4483" text-anchor="start" textLength="472.7" lengthAdjust="spacingAndGlyphs" stroke="#0b4483" stroke-width="0.45">Діти й дорослі для профілактики пневмококової інфекції</text>
<text x="730.5" y="1664.80" font-size="18.5" font-weight="normal" fill="#0b4483" text-anchor="start" textLength="223.6" lengthAdjust="spacingAndGlyphs" stroke="#0b4483" stroke-width="0.45">Діти із закритих колективів</text>
<text x="730.5" y="1686.70" font-size="18.5" font-weight="normal" fill="#0b4483" text-anchor="start" textLength="477.9" lengthAdjust="spacingAndGlyphs" stroke="#0b4483" stroke-width="0.45">Особи літнього віку, особливо які мешкають в інтернатах</text>
<circle cx="247" cy="1725.4" r="6.4" fill="#f1920b"/>
<circle cx="716" cy="1725.40" r="6.3" fill="#f1920b"/>
<circle cx="297.3" cy="1725.4" r="17.55" fill="#fff" stroke="#0b4483" stroke-width="4.3"/>
<circle cx="445" cy="1725.4" r="17.55" fill="#fff" stroke="#0b4483" stroke-width="4.3"/>
<text x="224.8" y="1718.50" font-size="19" font-weight="normal" fill="#0b4483" text-anchor="end" textLength="157" lengthAdjust="spacingAndGlyphs" stroke="#0b4483" stroke-width="0.75">МЕНІНГОКОКОВА</text>
<text x="224.8" y="1740.40" font-size="19" font-weight="normal" fill="#0b4483" text-anchor="end" textLength="85.3" lengthAdjust="spacingAndGlyphs" stroke="#0b4483" stroke-width="0.75">ІНФЕКЦІЯ</text>
<text x="730.5" y="1732.10" font-size="18.5" font-weight="normal" fill="#0b4483" text-anchor="start" textLength="474.3" lengthAdjust="spacingAndGlyphs" stroke="#0b4483" stroke-width="0.45">Діти й дорослі для профілактики менінгококової інфекції</text>
<circle cx="247" cy="1768.3" r="6.4" fill="#f1920b"/>
<circle cx="716" cy="1768.30" r="6.3" fill="#f1920b"/>
<circle cx="445" cy="1768.3" r="17.55" fill="#fff" stroke="#0b4483" stroke-width="4.3"/>
<text x="224.8" y="1768.20" font-size="19" font-weight="normal" fill="#0b4483" text-anchor="end" textLength="175" lengthAdjust="spacingAndGlyphs" stroke="#0b4483" stroke-width="0.75">ПАПІЛОМАВІРУСНА</text>
<text x="224.8" y="1790.10" font-size="19" font-weight="normal" fill="#0b4483" text-anchor="end" textLength="85.3" lengthAdjust="spacingAndGlyphs" stroke="#0b4483" stroke-width="0.75">ІНФЕКЦІЯ</text>
<text x="730.5" y="1775.00" font-size="18.5" font-weight="normal" fill="#0b4483" text-anchor="start" textLength="650.1" lengthAdjust="spacingAndGlyphs" stroke="#0b4483" stroke-width="0.45">Для запобігання виникненню цервікальної інтраепітеліальної неоплазії 2–3-го</text>
<text x="730.5" y="1796.90" font-size="18.5" font-weight="normal" fill="#0b4483" text-anchor="start" textLength="677.6" lengthAdjust="spacingAndGlyphs" stroke="#0b4483" stroke-width="0.45">ступенів та раку шийки матки, піхви, вульви, генітальних кондилом (у чоловіків та</text>
<text x="730.5" y="1818.80" font-size="18.5" font-weight="normal" fill="#0b4483" text-anchor="start" textLength="594.8" lengthAdjust="spacingAndGlyphs" stroke="#0b4483" stroke-width="0.45">жінок) та інших захворювань, що спричинені вірусом папіломи людини</text>
<circle cx="247" cy="1855.8" r="6.4" fill="#f1920b"/>
<circle cx="716" cy="1855.80" r="6.3" fill="#f1920b"/>
<circle cx="445" cy="1855.8" r="17.55" fill="#fff" stroke="#0b4483" stroke-width="4.3"/>
<text x="224.8" y="1861.90" font-size="19" font-weight="normal" fill="#0b4483" text-anchor="end" textLength="207.1" lengthAdjust="spacingAndGlyphs" stroke="#0b4483" stroke-width="0.75">РОТАВІРУСНА ІНФЕКЦІЯ</text>
<text x="730.5" y="1862.50" font-size="18.5" font-weight="normal" fill="#0b4483" text-anchor="start" textLength="533.5" lengthAdjust="spacingAndGlyphs" stroke="#0b4483" stroke-width="0.45">Для профілактики гастроентеритів, що спричинені ротавірусом</text>
<circle cx="247" cy="1898.8" r="6.4" fill="#f1920b"/>
<circle cx="716" cy="1898.80" r="6.3" fill="#f1920b"/>
<circle cx="297.3" cy="1898.8" r="17.55" fill="#fff" stroke="#0b4483" stroke-width="4.3"/>
<circle cx="445" cy="1898.8" r="17.55" fill="#fff" stroke="#0b4483" stroke-width="4.3"/>
<circle cx="592" cy="1898.8" r="17.55" fill="#fff" stroke="#0b4483" stroke-width="4.3"/>
<text x="224.8" y="1906.00" font-size="19" font-weight="normal" fill="#0b4483" text-anchor="end" textLength="198.4" lengthAdjust="spacingAndGlyphs" stroke="#0b4483" stroke-width="0.75">ЗАХВОРЮВАННЯ, ДЛЯ</text>
<text x="224.8" y="1927.90" font-size="19" font-weight="normal" fill="#0b4483" text-anchor="end" textLength="205.8" lengthAdjust="spacingAndGlyphs" stroke="#0b4483" stroke-width="0.75">ІМУНОПРОФІЛАКТИКИ</text>
<text x="224.8" y="1949.80" font-size="19" font-weight="normal" fill="#0b4483" text-anchor="end" textLength="205" lengthAdjust="spacingAndGlyphs" stroke="#0b4483" stroke-width="0.75">ЯКИХ ІСНУЄ ВАКЦИНА,</text>
<text x="224.8" y="1971.70" font-size="19" font-weight="normal" fill="#0b4483" text-anchor="end" textLength="153.7" lengthAdjust="spacingAndGlyphs" stroke="#0b4483" stroke-width="0.75">ЗАРЕЄСТРОВАНА</text>
<text x="224.8" y="1993.60" font-size="19" font-weight="normal" fill="#0b4483" text-anchor="end" textLength="83.7" lengthAdjust="spacingAndGlyphs" stroke="#0b4483" stroke-width="0.75">В УКРАЇНІ</text>
<text x="730.5" y="1905.50" font-size="18.5" font-weight="normal" fill="#0b4483" text-anchor="start" textLength="671.1" lengthAdjust="spacingAndGlyphs" stroke="#0b4483" stroke-width="0.45">Особи, які бажають зробити щеплення в лікувально-профілактичних закладах за</text>
<text x="730.5" y="1927.40" font-size="18.5" font-weight="normal" fill="#0b4483" text-anchor="start" textLength="175.7" lengthAdjust="spacingAndGlyphs" stroke="#0b4483" stroke-width="0.45">направленням лікаря</text>
<text x="25" y="2035.9" font-size="14" font-weight="normal" fill="#7d7d7d" text-anchor="start" textLength="517.7" lengthAdjust="spacingAndGlyphs" stroke="#7d7d7d" stroke-width="0.4">* Відповідно до глави 3 розділу II Календаря профілактичних щеплень в Україні.</text>
<text x="1434" y="2035.6" font-size="14" font-weight="normal" fill="#f1920b" text-anchor="end" textLength="103" lengthAdjust="spacingAndGlyphs" stroke="#f1920b" stroke-width="0.5">www.phc.org.ua</text>
</svg>
</body></html>
